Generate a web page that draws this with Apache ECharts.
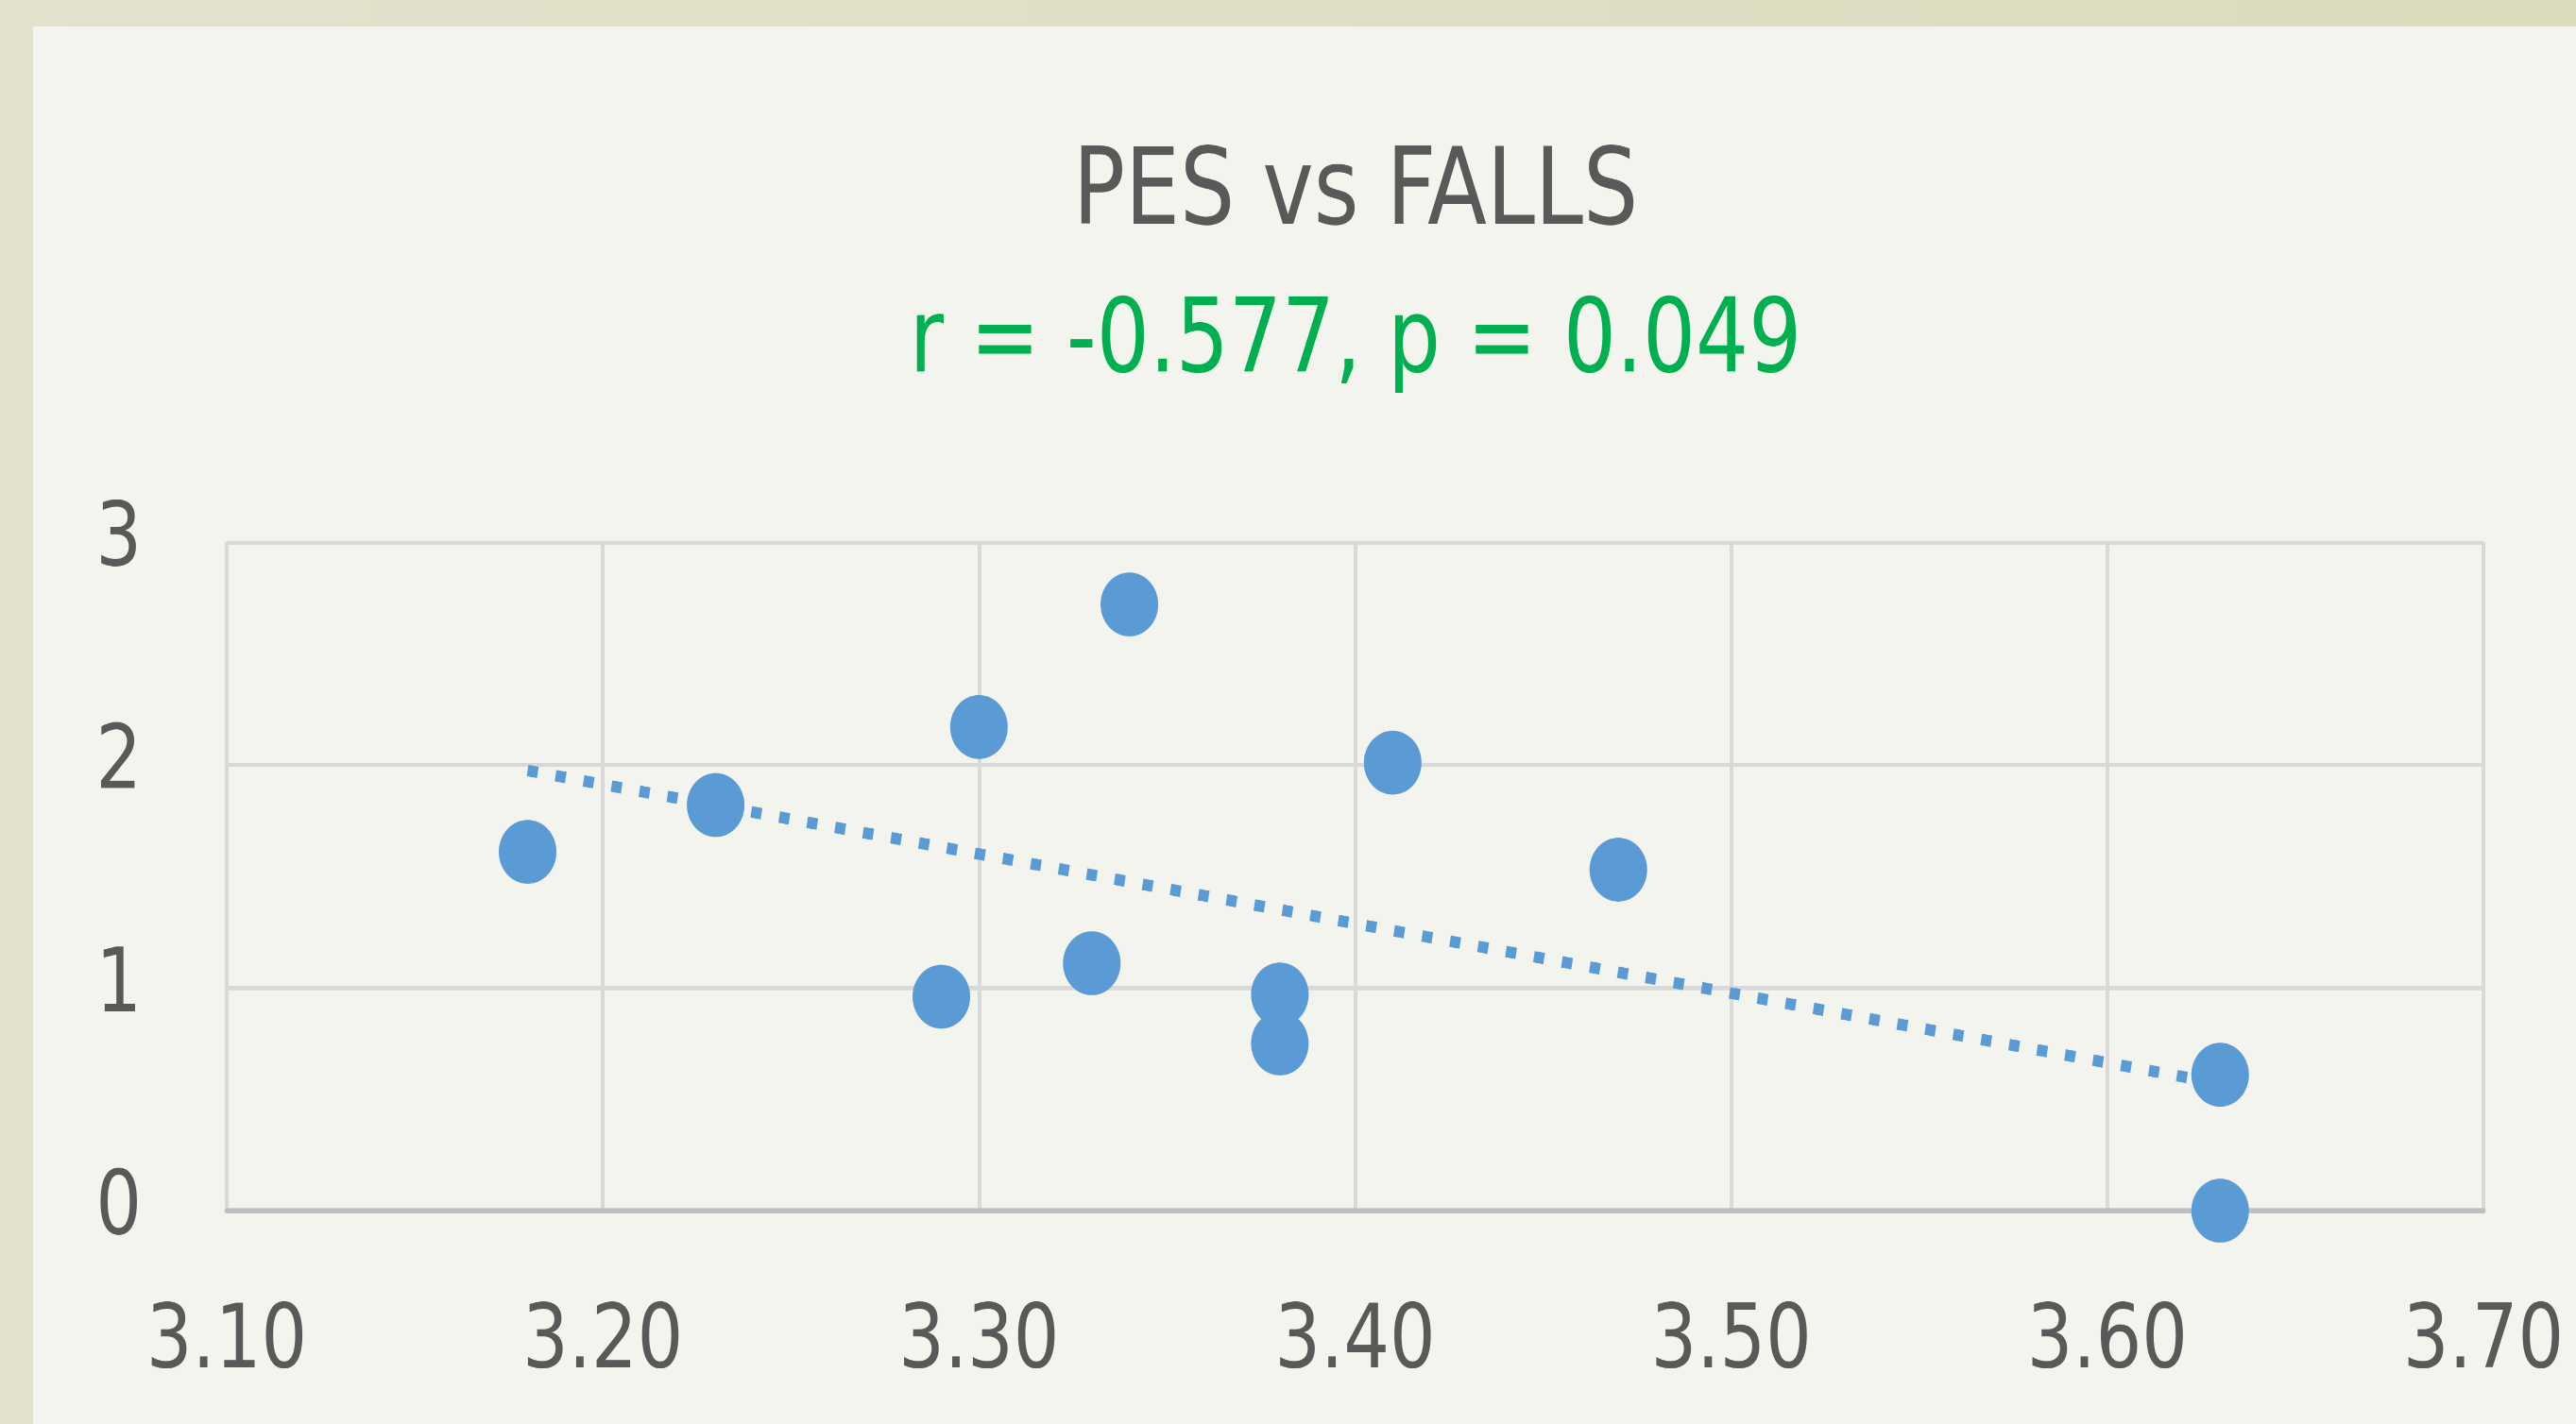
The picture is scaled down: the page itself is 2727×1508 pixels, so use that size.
<!DOCTYPE html>
<html>
<head>
<meta charset="utf-8">
<style>
html,body{margin:0;padding:0;width:2727px;height:1508px;overflow:hidden;background:#E3E1CB;}
#chart{width:2727px;height:1359px;transform:scaleY(1.10964);transform-origin:0 0;}
</style>
<script src="https://cdn.jsdelivr.net/npm/echarts@6/dist/echarts.min.js"></script>
</head>
<body>
<div id="chart"></div>
<script>
const titleText = 'PES vs FALLS';
const subtitleText = 'r = -0.577, p = 0.049';
const pesValues = [3.18, 3.23, 3.30, 3.34, 3.29, 3.33, 3.38, 3.38, 3.41, 3.47, 3.63, 3.63];
const fallsValues = [1.61, 1.82, 2.17, 2.72, 0.96, 1.11, 0.97, 0.75, 2.01, 1.53, 0.61, 0.00];
const trendX = [3.18, 3.63];
const trendY = [1.975, 0.57];
const xTicks = [3.1, 3.2, 3.3, 3.4, 3.5, 3.6, 3.7];
const yTicks = [0, 1, 2, 3];

const FONT = '"DejaVu Sans Condensed", "DejaVu Sans", sans-serif';

const chart = echarts.init(document.getElementById('chart'), null, {renderer: 'canvas', devicePixelRatio: 2});
const scatterData = pesValues.map((x, i) => [x, fallsValues[i]]);
const trendData = trendX.map((x, i) => [x, trendY[i]]);

chart.setOption({
  backgroundColor: {
    type: 'linear', x: 0, y: 0, x2: 1, y2: 0,
    colorStops: [{offset: 0, color: '#E4E2CD'}, {offset: 1, color: '#DCDBBE'}]
  },
  graphic: [{
    type: 'rect', z: -10, silent: true,
    shape: {x: 35, y: 25.2, width: 2692, height: 1340},
    style: {fill: '#F4F4EE'}
  }],
  title: [{
    text: titleText, left: 1430, top: 131, textAlign: 'center',
    textStyle: {fontFamily: FONT, fontSize: 102, fontWeight: 'normal', color: '#595959'}
  }, {
    text: subtitleText, left: 1430, top: 275, textAlign: 'center',
    textStyle: {fontFamily: FONT, fontSize: 98, fontWeight: 'normal', color: '#00B050'}
  }],
  grid: {left: 240, right: 98, top: 517.3, bottom: 203.6, containLabel: false},
  xAxis: {
    type: 'value', min: xTicks[0], max: xTicks[xTicks.length - 1], interval: 0.1,
    axisLine: {show: true, lineStyle: {color: '#BFBFBF', width: 5}},
    axisTick: {show: false},
    axisLabel: {
      margin: 85, color: '#595959', fontFamily: FONT, fontSize: 85,
      formatter: v => v.toFixed(2)
    },
    splitLine: {show: true, lineStyle: {color: '#D9D9D9', width: 4}}
  },
  yAxis: {
    type: 'value', min: yTicks[0], max: yTicks[yTicks.length - 1], interval: 1,
    axisLine: {show: false},
    axisTick: {show: false},
    axisLabel: {margin: 90, color: '#595959', fontFamily: FONT, fontSize: 85},
    splitLine: {show: true, lineStyle: {color: '#D9D9D9', width: 4}}
  },
  series: [{
    type: 'line', data: trendData, symbol: 'none', z: 2, silent: true,
    lineStyle: {color: '#5B9BD5', width: 11, type: [11, 19], cap: 'butt'}
  }, {
    type: 'scatter', data: scatterData, z: 3,
    symbol: 'circle', symbolSize: 61,
    itemStyle: {color: '#5B9BD5', opacity: 1}
  }],
  animation: false
});
</script>
</body>
</html>
